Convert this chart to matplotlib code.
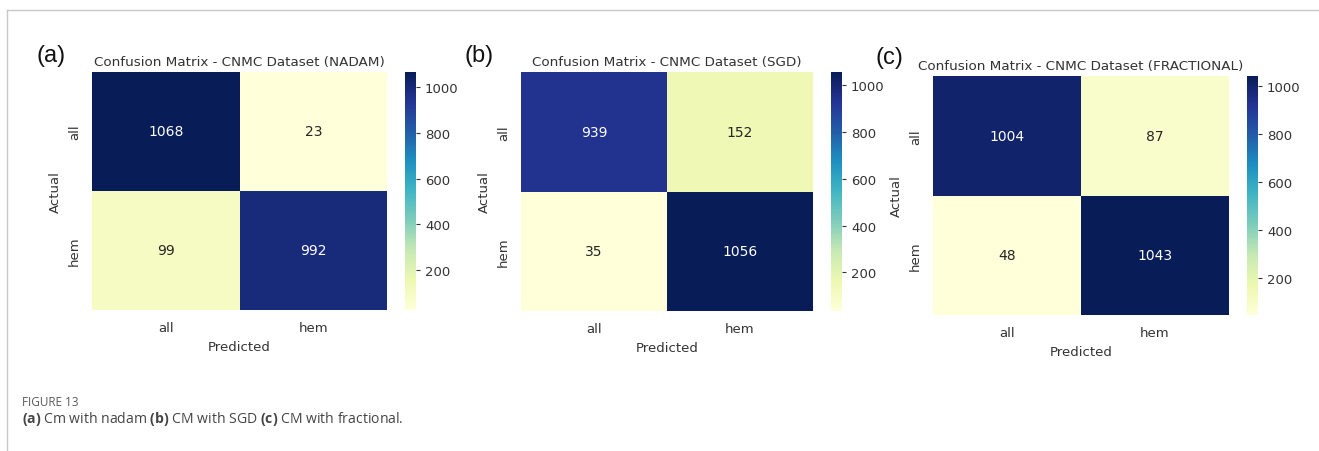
import numpy as np
import matplotlib
matplotlib.use("Agg")
import matplotlib.pyplot as plt
import seaborn as sns
from matplotlib.lines import Line2D

W, H = 1319, 452

labels = ["all", "hem"]
cm_nadam = [[1068, 23], [99, 992]]
cm_sgd = [[939, 152], [35, 1056]]
cm_frac = [[1004, 87], [48, 1043]]
optimizers = ["NADAM", "SGD", "FRACTIONAL"]
panel_tags = ["(a)", "(b)", "(c)"]

plt.rcParams["mathtext.fontset"] = "custom"
plt.rcParams["mathtext.rm"] = "Open Sans"
plt.rcParams["mathtext.bf"] = "Open Sans:bold"


def box(x0, y0, x1, y1):
    # pixel box -> figure fraction [left, bottom, width, height]
    return [x0 / W, 1 - y1 / H, (x1 - x0) / W, (y1 - y0) / H]


# heatmap / colorbar / tag placement in pixels
heat_boxes = [(92, 73, 387, 311), (521, 73, 813, 312), (933, 77, 1229, 316)]
cbar_boxes = [(405, 73, 416, 311), (831, 73, 842, 312), (1247, 77, 1258, 316)]
tag_pos = [(36, 56), (464, 56), (876, 58)]

fig = plt.figure(figsize=(W / 100, H / 100), dpi=100)
txt = "#333333"

for cm, opt, tag, hb, cb, tp in zip([cm_nadam, cm_sgd, cm_frac], optimizers,
                                     panel_tags, heat_boxes, cbar_boxes, tag_pos):
    ax = fig.add_axes(box(*hb))
    cax = fig.add_axes(box(*cb))
    sns.heatmap(np.array(cm), annot=True, fmt="d", cmap="YlGnBu",
                xticklabels=labels, yticklabels=labels, ax=ax, cbar_ax=cax,
                annot_kws={"fontsize": 10})
    ax.set_title(f"Confusion Matrix - CNMC Dataset ({opt})", fontsize=9.7,
                 color=txt, pad=5)
    ax.set_xlabel("Predicted", fontsize=9.5, color=txt)
    ax.set_ylabel("Actual", fontsize=9.5, color=txt)
    ax.tick_params(labelsize=9.5, colors=txt, length=0, pad=8)
    cax.tick_params(labelsize=9.5, colors=txt, length=3, width=0.8)
    for s in cax.spines.values():
        s.set_visible(False)
    fig.text(tp[0] / W, 1 - tp[1] / H, tag, fontsize=17, family="Liberation Sans",
             color="#111111", ha="left", va="center")

# page frame
fig.add_artist(Line2D([7 / W, 1], [1 - 11 / H, 1 - 11 / H], color="#c8c8c8", lw=1))
fig.add_artist(Line2D([7 / W, 7 / W], [0, 1 - 11 / H], color="#c8c8c8", lw=1))

# caption
fig.text(22 / W, 1 - 403 / H, "FIGURE 13", fontsize=8.5, family="Open Sans",
         color="#5a5a5a", ha="left", va="center")
fig.text(22 / W, 1 - 419 / H,
         r"$\bf{(a)}$ Cm with nadam $\bf{(b)}$ CM with SGD $\bf{(c)}$ CM with fractional.",
         fontsize=10.1, family="Open Sans", color="#444444", ha="left", va="center")

fig.savefig("out.png", dpi=100)
